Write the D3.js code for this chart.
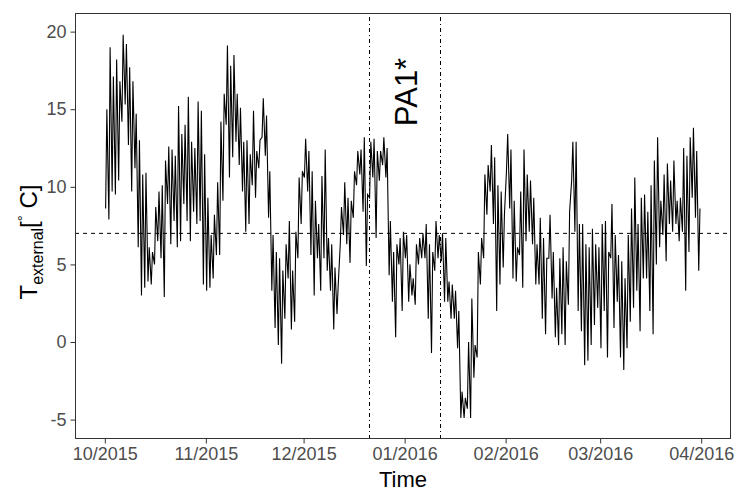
<!DOCTYPE html>
<html>
<head>
<meta charset="utf-8">
<script src="https://cdn.jsdelivr.net/npm/d3@7"></script>
<style>
  body { margin: 0; background: #fff; }
  svg { font-family: "Liberation Sans", Arial, sans-serif; }
</style>
</head>
<body>
<div id="container"></div>
<script>
const width = 750;
const height = 500;
const marginTop = 13;
const marginRight = 19;
const marginBottom = 61;
const marginLeft = 75;

// daily minimum / maximum external temperature, one entry per day from 1 Oct 2015
const startDate = new Date(2015, 9, 1);
const dailyMax = [
  15, 19, 17.1, 18.2, 16.8, 19.8, 19.2, 17.7, 16.8, 14.7,
  13, 10.8, 10.9, 6.1, 5.8, 8.7, 9.7, 10.1, 11.7, 12.6,
  12.4, 12, 15.2, 13.4, 14, 15.8, 12.9, 12.5, 15.5, 14.9,
  12.1, 9.3, 6.9, 8.2, 10.3, 14.2, 16, 19.1, 17.8, 18.5,
  16, 15.1, 12.9, 13, 12.1, 14.9, 12.3, 13, 15.7, 14.6,
  11, 6.9, 5.8, 5.4, 4.6, 6.3, 7.8, 4.6, 7.1, 10.6,
  11, 13.1, 12.3, 11, 9.1, 7.6, 10.7, 12.4, 6.7, 6.3,
  4.8, 3.7, 8.7, 10.3, 9.3, 9.1, 11, 12.3, 12.4, 13.2,
  9.5, 12.9, 13.1, 12.3, 12.3, 13.2, 12.5, 7.8, 5.8, 6.3,
  6.7, 7.1, 6.9, 5.0, 4.1, 6.3, 6.7, 7.0, 7.6, 6.3,
  5.8, 7.8, 6.9, 7.0, 6.7, 3.9, 3.7, 3.3, 2.0, -3.2,
  -3.6, 0, 2.8, -0.2, 5.8, 6.7, 10.8, 11.4, 12.7, 11.9,
  10.1, 9.7, 8.2, 13.4, 12.4, 9.1, 6.1, 9.7, 12.4, 10.8,
  10.4, 9.3, 6.3, 8.0, 6.7, 5.4, 8.2, 5.8, 3.5, 5.4,
  6.1, 5.2, 8.4, 12.9, 12.9, 7.6, 7.6, 6.3, 6.1, 7.3,
  6.3, 6.1, 7.6, 7.8, 5.8, 8.9, 6.9, 5.6, 5.2, 4.1,
  6.9, 8.6, 10.6, 7.6, 9.3, 9.5, 8.4, 10.1, 11.7, 13.2,
  9.1, 10.8, 11.5, 10.4, 11.7, 9.1, 9.3, 12.5, 12.0, 13.2,
  13.8, 12.3, 8.6
];
const dailyMin = [
  8.6, 7.9, 9.7, 9.5, 10.4, 14.2, 15.3, 12.7, 9.7, 11.2,
  6.1, 3.0, 3.5, 3.9, 3.7, 5.0, 6.5, 5.4, 2.9, 8.9,
  6.3, 7.8, 6.1, 6.5, 8.9, 7.8, 6.5, 8.4, 7.6, 7.8,
  3.7, 3.3, 3.5, 4.1, 5.6, 5.6, 9.1, 14.0, 10.6, 11.9,
  12.9, 11.4, 9.7, 7.1, 7.6, 10.1, 9.3, 11.2, 13.2, 12.0,
  8.0, 3.3, 0.9, -0.2, -1.4, 1.5, 4.1, 0.8, 1.3, 5.4,
  7.6, 10.6, 9.7, 5.6, 3.0, 5.4, 3.3, 5.4, 4.6, 3.3,
  0.8, 1.8, 6.3, 6.9, 6.3, 5.1, 8.0, 10.1, 10.8, 8.4,
  4.9, 9.3, 10.6, 6.7, 10.4, 11.4, 10.6, 4.3, 2.6, 0.3,
  5.0, 2.0, 5.4, 2.6, 3.0, 2.4, 5.0, 5.4, 5.4, 1.5,
  -0.7, 4.6, 5.4, 5.2, 2.6, 2.6, 1.5, 1.5, -0.4, -4.9,
  -4.9, -4.3, -4.9, -2.3, -1.0, 3.7, 5.4, 8.2, 9.7, 7.6,
  2.0, 3.7, 4.8, 11.0, 8.6, 4.1, 3.9, 5.6, 3.5, 6.5,
  7.1, 6.3, 3.7, 3.7, 1.5, 0.5, 5.4, 2.8, 0.3, -0.2,
  0.5, -0.2, 2.4, 10.4, 7.1, 2.0, 0.7, -1.5, -1.2, -0.2,
  1.1, 2.2, -0.4, 2.0, -1.0, 5.4, 0.9, 2.6, -1.0, -1.8,
  -0.4, 1.3, 2.2, 3.3, 0.7, 4.1, 4.1, 2.0, 0.5, 5.0,
  6.1, 6.9, 5.2, 7.6, 7.1, 7.6, 6.5, 7.1, 3.3, 5.8,
  9.3, 8.0, 4.6
];

const monthTicks = [
  new Date(2015, 9, 1), new Date(2015, 10, 1), new Date(2015, 11, 1),
  new Date(2016, 0, 1), new Date(2016, 1, 1), new Date(2016, 2, 1), new Date(2016, 3, 1)
];
const yTicks = [-5, 0, 5, 10, 15, 20];
const periodBounds = [new Date(2015, 11, 21), new Date(2016, 0, 12)];
const periodLabel = "PA1*";
const threshold = 7;
const yDomain = [-6.25, 21.2];

// diurnal cycle: minimum early morning, maximum mid afternoon
const series = [];
dailyMin.forEach((lo, i) => {
  const day = d3.timeDay.offset(startDate, i);
  series.push({ t: d3.timeHour.offset(day, 6), v: lo });
  series.push({ t: d3.timeHour.offset(day, 15), v: dailyMax[i] });
});

const svg = d3.select("#container")
  .append("svg")
  .attr("width", width)
  .attr("height", height);

const xExtent = [startDate, d3.timeDay.offset(startDate, dailyMin.length)];
const span = xExtent[1] - xExtent[0];
const x = d3.scaleTime()
  .domain([new Date(+xExtent[0] - span * 0.05), new Date(+xExtent[1] + span * 0.05)])
  .range([marginLeft, width - marginRight]);

const y = d3.scaleLinear()
  .domain(yDomain)
  .range([height - marginBottom, marginTop]);

const plot = svg.append("g");

// reference lines
plot.append("line")
  .attr("x1", marginLeft).attr("x2", width - marginRight)
  .attr("y1", y(threshold)).attr("y2", y(threshold))
  .attr("stroke", "#000").attr("stroke-width", 1)
  .attr("stroke-dasharray", "4,4");

plot.selectAll(".period")
  .data(periodBounds)
  .join("line")
  .attr("class", "period")
  .attr("x1", d => Math.round(x(d)) + 0.5).attr("x2", d => Math.round(x(d)) + 0.5)
  .attr("y1", marginTop).attr("y2", height - marginBottom)
  .attr("stroke", "#000").attr("stroke-width", 1)
  .attr("stroke-dasharray", "1,3,4,3");

plot.append("path")
  .datum(series)
  .attr("fill", "none")
  .attr("stroke", "#000")
  .attr("stroke-width", 1.1)
  .attr("d", d3.line().x(d => x(d.t)).y(d => y(d.v)));

plot.append("text")
  .attr("transform", `translate(${x(d3.timeDay.offset(periodBounds[0], 11)) + 12},${92}) rotate(-90)`)
  .attr("text-anchor", "middle")
  .attr("font-size", 31)
  .attr("fill", "#000")
  .text(periodLabel);

// panel border
svg.append("rect")
  .attr("x", marginLeft + 0.5).attr("y", marginTop + 0.5)
  .attr("width", width - marginLeft - marginRight - 1)
  .attr("height", height - marginTop - marginBottom - 1)
  .attr("fill", "none")
  .attr("stroke", "#333333")
  .attr("stroke-width", 1);

const xAxis = svg.append("g")
  .attr("transform", `translate(0,${height - marginBottom})`)
  .call(d3.axisBottom(x).tickValues(monthTicks).tickFormat(d3.timeFormat("%m/%Y"))
    .tickSize(4.5).tickPadding(4));
xAxis.select(".domain").remove();
xAxis.selectAll(".tick line").attr("stroke", "#333333");
xAxis.selectAll(".tick text").attr("font-size", 18).attr("fill", "#4d4d4d")
  .attr("font-family", "Liberation Sans, Arial, sans-serif");

const yAxis = svg.append("g")
  .attr("transform", `translate(${marginLeft},0)`)
  .call(d3.axisLeft(y).tickValues(yTicks).tickFormat(d => String(d)).tickSize(4.5).tickPadding(4));
yAxis.select(".domain").remove();
yAxis.selectAll(".tick line").attr("stroke", "#333333");
yAxis.selectAll(".tick text").attr("font-size", 18).attr("fill", "#4d4d4d")
  .attr("font-family", "Liberation Sans, Arial, sans-serif");

svg.append("text")
  .attr("x", (marginLeft + width - marginRight) / 2)
  .attr("y", 487)
  .attr("text-anchor", "middle")
  .attr("font-size", 22)
  .attr("fill", "#000")
  .text("Time");

const yTitle = svg.append("text")
  .attr("transform", `translate(37,${242}) rotate(-90)`)
  .attr("text-anchor", "middle")
  .attr("font-size", 24)
  .attr("fill", "#000");
yTitle.append("tspan").text("T");
yTitle.append("tspan").attr("font-size", 16).attr("dy", 6).text("external");
yTitle.append("tspan").attr("dy", -6).text("[");
yTitle.append("tspan").attr("font-size", 15).attr("dy", -9).text("°");
yTitle.append("tspan").attr("dy", 9).text(" C]");
</script>
</body>
</html>
